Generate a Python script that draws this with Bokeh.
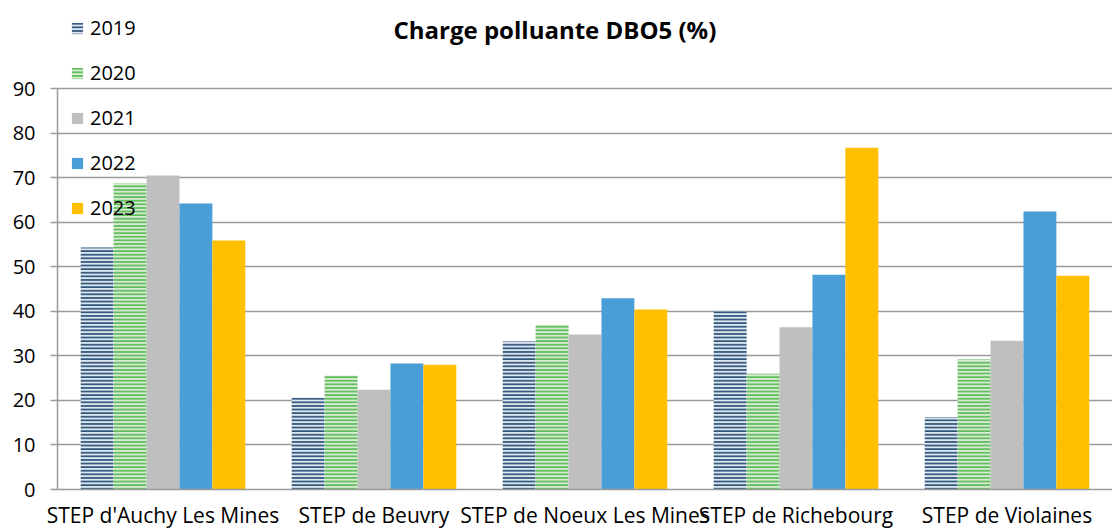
from bokeh.plotting import figure
from bokeh.models import (ColumnDataSource, FactorRange, Legend, LegendItem,
                          FixedTicker, Label, Range1d)
from bokeh.transform import dodge
from bokeh.embed import file_html
from bokeh.resources import INLINE

categories = ["STEP d'Auchy Les Mines", "STEP de Beuvry", "STEP de Noeux Les Mines",
              "STEP de Richebourg", "STEP de Violaines"]
years = ["2019", "2020", "2021", "2022", "2023"]
v2019 = [54.3, 20.6, 33.2, 40.2, 16.2]
v2020 = [68.7, 25.6, 37.0, 26.0, 29.2]
v2021 = [70.5, 22.4, 34.8, 36.4, 33.4]
v2022 = [64.2, 28.3, 42.9, 48.2, 62.4]
v2023 = [55.9, 28.0, 40.4, 76.7, 48.0]
y_ticks = [0, 10, 20, 30, 40, 50, 60, 70, 80, 90]
title_text = "Charge polluante DBO5 (%)"

FONT = "Open Sans"
Y_MAX = 90
# the frame extends above the axis top so that title and legend are not clipped
Y_TOP = Y_MAX * 489 / 401

src = ColumnDataSource(dict(cat=categories, y2019=v2019, y2020=v2020,
                            y2021=v2021, y2022=v2022, y2023=v2023))

p = figure(width=1112, height=531, output_backend="svg", toolbar_location=None,
           x_range=FactorRange(factors=categories, range_padding=0),
           y_range=Range1d(0, Y_TOP), min_border_left=57, min_border_right=0,
           min_border_top=0, min_border_bottom=42)
p.outline_line_color = None

styles = [
    dict(fill_color="#dbe6f1", hatch_pattern="horizontal_line", hatch_color="#2e5479",
         hatch_scale=3.6, hatch_weight=1.8),
    dict(fill_color="#d4edd2", hatch_pattern="horizontal_line", hatch_color="#5fbb5a",
         hatch_scale=3.6, hatch_weight=1.8),
    dict(fill_color="#bfbfbf"),
    dict(fill_color="#4a9ed7"),
    dict(fill_color="#ffc000"),
]
bw = 0.156
offsets = [-2 * bw, -bw, 0, bw, 2 * bw]
renderers = []
for yr, off, st in zip(years, offsets, styles):
    r = p.vbar(x=dodge("cat", off, range=p.x_range), top="y" + yr, width=bw,
               source=src, line_color=None, **st)
    renderers.append(r)

legend = Legend(items=[LegendItem(label=yr, renderers=[r]) for yr, r in zip(years, renderers)],
                location=(13, 268), orientation="vertical",
                glyph_width=14, glyph_height=14, label_height=27, spacing=18,
                padding=0, margin=0, border_line_color=None, background_fill_alpha=0,
                label_text_font=FONT, label_text_font_size="20px",
                label_text_color="#000000", label_standoff=6)
p.add_layout(legend, "center")

title = Label(x=336, y=460, x_units="screen", y_units="screen", text=title_text,
              text_font=FONT, text_font_size="24px", text_font_style="bold",
              text_color="#000000", text_align="left", text_baseline="middle")
p.add_layout(title)

p.ygrid.grid_line_color = "#9a9a9a"
p.ygrid.grid_line_width = 1.5
p.xgrid.grid_line_color = None

p.yaxis.ticker = FixedTicker(ticks=y_ticks)
p.yaxis.bounds = (0, Y_MAX)
p.yaxis.axis_line_color = "#9a9a9a"
p.yaxis.axis_line_width = 1.5
p.yaxis.major_tick_line_color = "#9a9a9a"
p.yaxis.major_tick_line_width = 1.5
p.yaxis.major_tick_out = 7
p.yaxis.major_tick_in = 0
p.yaxis.minor_tick_line_color = None
p.yaxis.major_label_text_font = FONT
p.yaxis.major_label_text_font_size = "20px"
p.yaxis.major_label_text_color = "#000000"
p.yaxis.major_label_standoff = 15

p.xaxis.axis_line_color = "#9a9a9a"
p.xaxis.axis_line_width = 1.5
p.xaxis.major_tick_line_color = None
p.xaxis.minor_tick_line_color = None
p.xaxis.major_label_text_font = FONT
p.xaxis.major_label_text_font_size = "21px"
p.xaxis.major_label_text_color = "#000000"
p.xaxis.major_label_standoff = 5

open("out.html", "w").write(file_html(p, INLINE))
